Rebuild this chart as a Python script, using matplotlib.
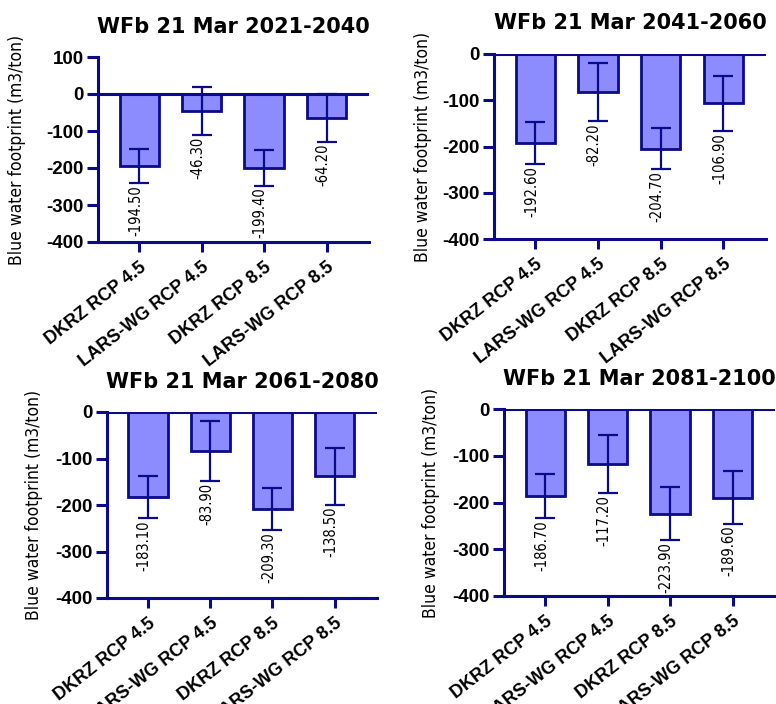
import matplotlib
matplotlib.use("Agg")
import matplotlib.pyplot as plt
from matplotlib import font_manager as fm

categories = ["DKRZ RCP 4.5", "LARS-WG RCP 4.5", "DKRZ RCP 8.5", "LARS-WG RCP 8.5"]
titles = ["WFb 21 Mar 2021-2040", "WFb 21 Mar 2041-2060",
          "WFb 21 Mar 2061-2080", "WFb 21 Mar 2081-2100"]
means_2021 = [-194.5, -46.3, -199.4, -64.2]
sd_2021 = [47, 65, 48, 64.6]
means_2041 = [-192.6, -82.2, -204.7, -106.9]
sd_2041 = [46, 63, 45, 60]
means_2061 = [-183.1, -83.9, -209.3, -138.5]
sd_2061 = [45.5, 64.5, 45, 60.5]
means_2081 = [-186.7, -117.2, -223.9, -189.6]
sd_2081 = [47, 62, 56, 56]
value_labels = [["-194.50", "-46.30", "-199.40", "-64.20"],
                ["-192.60", "-82.20", "-204.70", "-106.90"],
                ["-183.10", "-83.90", "-209.30", "-138.50"],
                ["-186.70", "-117.20", "-223.90", "-189.60"]]
ylims = [(-400, 100), (-400, 0), (-400, 0), (-400, 0)]
yticks = [[-400, -300, -200, -100, 0, 100], [-400, -300, -200, -100, 0],
          [-400, -300, -200, -100, 0], [-400, -300, -200, -100, 0]]

names = {f.name for f in fm.fontManager.ttflist}
if "Liberation Sans Narrow" in names:
    narrow = dict(family="Liberation Sans Narrow")
else:
    narrow = dict(family="DejaVu Sans", fontstretch="condensed")
sans = "Liberation Sans"

navy = "#0a0a8a"
fill = "#8c8cff"

fig = plt.figure(figsize=(7.76, 7.04), dpi=100)
rects = [(98, 57, 369, 242), (494, 54, 766, 239), (107, 412, 377, 598), (504, 409, 775, 596)]
title_pads = [17, 18, 17, 17]
label_pads = [15, 8, 9, 9]
W, H = 776, 704
all_means = [means_2021, means_2041, means_2061, means_2081]
all_sd = [sd_2021, sd_2041, sd_2061, sd_2081]

for i in range(4):
    l, t, r, b = rects[i]
    ax = fig.add_axes([l / W, 1 - b / H, (r - l) / W, (b - t) / H])
    x = list(range(len(categories)))
    m = all_means[i]
    s = all_sd[i]
    ax.bar(x, m, width=0.63, color=fill, edgecolor=navy, linewidth=2.0, zorder=2)
    ax.errorbar(x, m, yerr=s, fmt="none", ecolor=navy, elinewidth=1.6,
                capsize=7, capthick=1.6, zorder=3)
    ax.axhline(0, color=navy, linewidth=2.2, zorder=4)
    for xi, mi, si, lab in zip(x, m, s, value_labels[i]):
        ax.text(xi - 0.06, mi - si - 4, lab, rotation=90, ha="center", va="top",
                fontsize=10.5, color="black", zorder=5, **narrow)
    ax.set_xlim(-0.66, 3.68)
    ax.set_ylim(*ylims[i])
    ax.set_yticks(yticks[i])
    ax.set_yticklabels([str(v) for v in yticks[i]], fontsize=13.5, fontweight="bold", family=sans)
    ax.set_xticks(x)
    ax.set_xticklabels(categories, rotation=38, ha="right", rotation_mode="anchor",
                       fontsize=13, fontweight="bold", family=sans)
    for sp in ["top", "right"]:
        ax.spines[sp].set_visible(False)
    for sp in ["left", "bottom"]:
        ax.spines[sp].set_color(navy)
        ax.spines[sp].set_linewidth(2.2)
    ax.tick_params(axis="y", length=8, width=2.2, color=navy, pad=2)
    ax.tick_params(axis="x", length=7, width=2.2, color=navy, pad=5)
    ax.set_ylabel("Blue water footprint (m3/ton)", fontsize=12.5, fontweight="medium",
                  labelpad=label_pads[i], **narrow)
    ax.set_title(titles[i], fontsize=15, fontweight="bold", family="DejaVu Sans",
                 pad=title_pads[i])

fig.savefig("out.png", dpi=100)
